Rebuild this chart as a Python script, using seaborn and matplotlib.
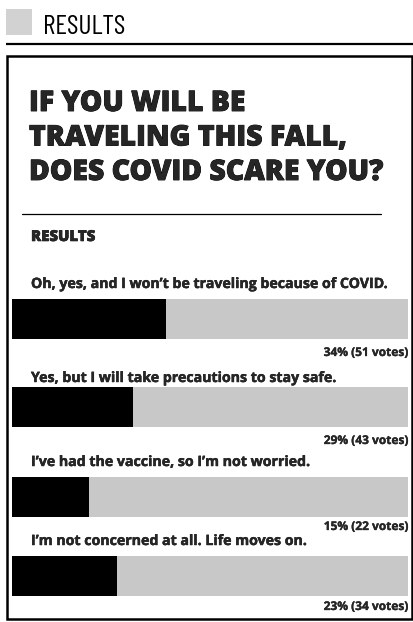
import matplotlib

matplotlib.use("Agg")
import matplotlib.pyplot as plt
import matplotlib.patches as mpatches
import matplotlib.patheffects as pe
from matplotlib import font_manager
from matplotlib.font_manager import FontProperties
import pandas as pd
import seaborn as sns

# --- Poll data ---
question_lines = ["IF YOU WILL BE", "TRAVELING THIS FALL,", "DOES COVID SCARE YOU?"]
options = [
    "Oh, yes, and I won\u2019t be traveling because of COVID.",
    "Yes, but I will take precautions to stay safe.",
    "I\u2019ve had the vaccine, so I\u2019m not worried.",
    "I\u2019m not concerned at all. Life moves on.",
]
percents = [34, 29, 15, 23]
votes = [51, 43, 22, 34]
# filled share of each bar track
bar_fill = [39, 30.5, 19.5, 26.5]

W, H = 414, 622


def font(name, weight, size, stretch="normal"):
    # pick the static upright file directly; DejaVu bold if the face is missing
    for f in font_manager.fontManager.ttflist:
        if (f.name == name and f.weight == weight and f.style == "normal"
                and f.stretch == stretch):
            return FontProperties(fname=f.fname, size=size)
    for f in font_manager.fontManager.ttflist:
        if f.name == name and f.weight == weight and f.style == "normal":
            return FontProperties(fname=f.fname, size=size)
    return FontProperties(family="DejaVu Sans", weight="bold", size=size)


def heavier(lw):
    # thin outline in the text colour to get closer to the black weight of the original
    return [pe.withStroke(linewidth=lw, foreground="black")]


sns.set_theme(style="white")
plt.rcParams["font.family"] = ["Open Sans", "DejaVu Sans"]

fig = plt.figure(figsize=(W / 100, H / 100), dpi=100)
fig.patch.set_facecolor("white")

bg = fig.add_axes([0, 0, 1, 1])
bg.set_xlim(0, W)
bg.set_ylim(H, 0)
bg.axis("off")

# header strip
bg.add_patch(mpatches.Rectangle((6, 9), 26, 26, color="#d2d2d2", lw=0))
bg.text(43, 34.5, "RESULTS", fontproperties=font("Barlow Condensed", 400, 19.8, "condensed"),
        color="black", va="baseline")
bg.plot([6, 414], [43.5, 43.5], color="black", lw=1.6, solid_capstyle="butt")

# outer box
bg.add_patch(mpatches.Rectangle((7.5, 55.5), 405, 563, fill=False, ec="black", lw=1.8))

# title
title_fp = font("Open Sans", 800, 20.4)
for i, line in enumerate(question_lines):
    bg.text(29, 111 + i * 34.5, line, fontproperties=title_fp, va="baseline",
            path_effects=heavier(0.6))

bg.plot([22, 381], [214, 214], color="black", lw=0.9)
bg.text(31, 241, "RESULTS", fontproperties=font("Open Sans", 800, 10.8), va="baseline",
        path_effects=heavier(0.4))

bar_tops = [299, 387, 477, 556]
label_y = [288, 382, 466, 545]
pct_y = [356, 444, 530, 610]

opt_fp = font("Open Sans", 700, 10.2)
pct_fp = font("Open Sans", 700, 8.6)

df = pd.DataFrame({"option": options, "pct": percents, "votes": votes, "fill": bar_fill})

for i, row in df.iterrows():
    bg.text(31, label_y[i], row["option"], fontproperties=opt_fp, va="baseline",
            path_effects=heavier(0.3))
    bg.text(408, pct_y[i], f"{row['pct']}% ({row['votes']} votes)", fontproperties=pct_fp,
            ha="right", va="baseline", path_effects=heavier(0.2))

    ax = fig.add_axes([12 / W, 1 - (bar_tops[i] + 40) / H, 396 / W, 40 / H])
    one = pd.DataFrame({"y": [row["option"]], "track": [100], "fill": [row["fill"]]})
    sns.barplot(data=one, x="track", y="y", orient="h", color="#c8c8c8", width=1,
                saturation=1, linewidth=0, ax=ax)
    sns.barplot(data=one, x="fill", y="y", orient="h", color="black", width=1,
                saturation=1, linewidth=0, ax=ax)
    ax.set_xlim(0, 100)
    ax.set_ylim(0.5, -0.5)
    ax.axis("off")

fig.savefig("out.png", dpi=100)
